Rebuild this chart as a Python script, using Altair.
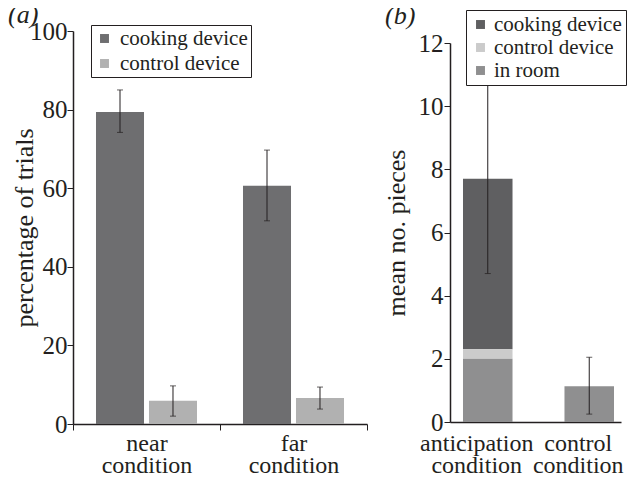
import altair as alt
import pandas as pd

# ---------------- data ----------------
cond_a = ["near condition", "far condition"]
dev_a = ["cooking device", "control device"]
pct_cooking = [79.4, 60.6]
pct_control = [5.9, 6.6]
lo_cooking = [74.2, 51.7]
hi_cooking = [85.0, 69.7]
lo_control = [2.0, 3.8]
hi_control = [9.7, 9.4]

cond_b = ["anticipation condition", "control condition"]
part_b = ["cooking device", "control device", "in room"]
b_cooking = [5.4, 0.0]
b_control = [0.3, 0.0]
b_inroom = [2.0, 1.13]
b_mean = [7.7, 1.13]
b_lo = [4.7, 0.25]
b_hi = [10.7, 2.05]

colors_a = ["#6e6e70", "#b1b1b1"]
colors_b = ["#5f5f61", "#cbcbcb", "#8f8f90"]

FONT = "Liberation Serif"
INK = "#231f20"

rows_a = []
for i, c in enumerate(cond_a):
    rows_a.append(dict(cond=c, device=dev_a[0], pct=pct_cooking[i], lo=lo_cooking[i], hi=hi_cooking[i]))
    rows_a.append(dict(cond=c, device=dev_a[1], pct=pct_control[i], lo=lo_control[i], hi=hi_control[i]))
df_a = pd.DataFrame(rows_a)

rows_b = []
for i, c in enumerate(cond_b):
    for j, (p, v) in enumerate(zip(part_b, [b_cooking[i], b_control[i], b_inroom[i]])):
        rows_b.append(dict(cond=c, part=p, val=v, order=2 - j))
df_b = pd.DataFrame(rows_b)
df_b_err = pd.DataFrame(dict(cond=cond_b, mean=b_mean, lo=b_lo, hi=b_hi))

# ---------------- panel a ----------------
xa = alt.X("cond:N", sort=cond_a,
           scale=alt.Scale(paddingInner=0, paddingOuter=0),
           axis=alt.Axis(title=None, labelAngle=0, labelExpr="split(datum.label, ' ')",
                         tickBand="extent", ticks=True, tickSize=6, labelPadding=1,
                         labelFontSize=24, labelLineHeight=22))
xa_plain = alt.X("cond:N", sort=cond_a)
xoff_a = alt.XOffset("device:N", sort=dev_a,
                     scale=alt.Scale(paddingInner=0.094, paddingOuter=0.434))
xoff_plain = alt.XOffset("device:N", sort=dev_a)
ya_scale = alt.Scale(domain=[0, 100], nice=False)

bars_a = alt.Chart(df_a).mark_bar().encode(
    x=xa, xOffset=xoff_a,
    y=alt.Y("pct:Q", scale=ya_scale,
            axis=alt.Axis(values=[0, 20, 40, 60, 80, 100], title="percentage of trials",
                          grid=False, tickSize=6, labelPadding=0, labelFontSize=25,
                          titleFontSize=26, titleX=-36, titleBaseline="bottom")),
    color=alt.Color("device:N", sort=dev_a,
                    scale=alt.Scale(domain=dev_a, range=colors_a),
                    legend=alt.Legend(title=None, orient="none", legendX=18, legendY=-6,
                                      symbolType="square", symbolSize=80, symbolStrokeWidth=0,
                                      labelFontSize=21, strokeColor=INK, padding=3,
                                      fillColor="white", rowPadding=3, labelOffset=5)),
)
err_a = alt.Chart(df_a).mark_rule(color=INK, strokeWidth=1).encode(
    x=xa_plain, xOffset=xoff_plain, y="lo:Q", y2="hi:Q")
cap_lo_a = alt.Chart(df_a).mark_tick(color=INK, thickness=1, size=6).encode(
    x=xa_plain, xOffset=xoff_plain, y="lo:Q")
cap_hi_a = alt.Chart(df_a).mark_tick(color=INK, thickness=1, size=6).encode(
    x=xa_plain, xOffset=xoff_plain, y="hi:Q")
lab_a = alt.Chart(pd.DataFrame({"t": ["(a)"]})).mark_text(
    font=FONT, fontSize=26, fontStyle="italic", align="left", baseline="top", color=INK
).encode(text="t:N", x=alt.value(-65), y=alt.value(-29))

panel_a = alt.layer(bars_a, err_a, cap_lo_a, cap_hi_a, lab_a).properties(width=294, height=393)

# ---------------- panel b ----------------
xb = alt.X("cond:N", sort=cond_b,
           scale=alt.Scale(paddingInner=0.512, paddingOuter=0.0985, align=0.65),
           axis=alt.Axis(title=None, labelAngle=0, labelExpr="split(datum.label, ' ')",
                         ticks=False, labelPadding=9, labelFontSize=24, labelLineHeight=22,
                         labelOffset=-11))
xb_plain = alt.X("cond:N", sort=cond_b)
yb_scale = alt.Scale(domain=[0, 12], nice=False)

bars_b = alt.Chart(df_b).mark_bar().encode(
    x=xb,
    y=alt.Y("sum(val):Q", stack="zero", scale=yb_scale,
            axis=alt.Axis(values=[0, 2, 4, 6, 8, 10, 12], title="mean no. pieces",
                          grid=False, tickSize=6, labelPadding=1, labelFontSize=25,
                          titleFontSize=26, titleX=-41, titleBaseline="bottom")),
    color=alt.Color("part:N", sort=part_b,
                    scale=alt.Scale(domain=part_b, range=colors_b),
                    legend=alt.Legend(title=None, orient="none", legendX=16, legendY=-21,
                                      symbolType="square", symbolSize=80, symbolStrokeWidth=0,
                                      labelFontSize=21, strokeColor=INK, padding=4,
                                      fillColor="white", rowPadding=1, labelOffset=3)),
    order=alt.Order("order:Q"),
)
err_b = alt.Chart(df_b_err).mark_rule(color=INK, strokeWidth=1).encode(
    x=xb_plain, y="lo:Q", y2="hi:Q")
cap_lo_b = alt.Chart(df_b_err).mark_tick(color=INK, thickness=1, size=6).encode(
    x=xb_plain, y="lo:Q")
cap_hi_b = alt.Chart(df_b_err).mark_tick(color=INK, thickness=1, size=6).encode(
    x=xb_plain, y="hi:Q")
lab_b = alt.Chart(pd.DataFrame({"t": ["(b)"]})).mark_text(
    font=FONT, fontSize=26, fontStyle="italic", align="left", baseline="top", color=INK
).encode(text="t:N", x=alt.value(-65), y=alt.value(-40))

panel_b = alt.layer(bars_b, err_b, cap_lo_b, cap_hi_b, lab_b).properties(width=171, height=379)

spacer = alt.Chart(pd.DataFrame({"s": [0]})).mark_point(opacity=0, size=1).encode(
    x=alt.value(0), y=alt.value(0)).properties(width=171, height=12)

right = alt.vconcat(spacer, panel_b, spacing=0, bounds="flush")

chart = alt.hconcat(panel_a, right, spacing=15).resolve_scale(
    color="independent", x="independent", y="independent"
).configure(font=FONT, padding={"left": 0, "top": -6, "right": 0, "bottom": 0}).configure_view(
    stroke=None
).configure_axis(
    labelFont=FONT, titleFont=FONT, labelColor=INK, titleColor=INK,
    domainColor=INK, tickColor=INK, domainWidth=1.5, titleFontWeight="normal"
).configure_legend(labelFont=FONT, labelColor=INK)

chart.save("out.html", embed_options={"renderer": "svg", "actions": False})
